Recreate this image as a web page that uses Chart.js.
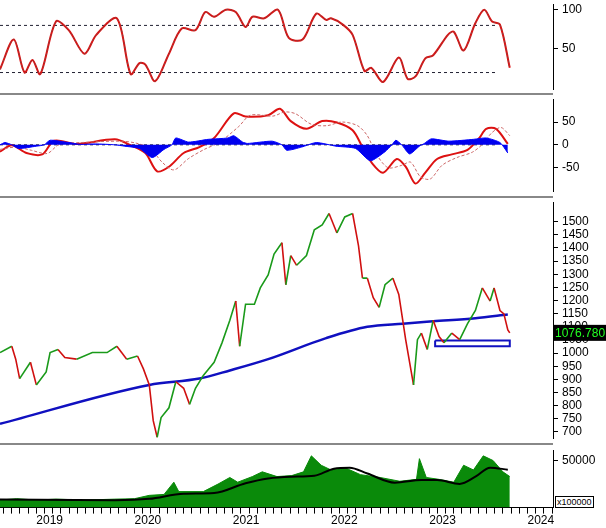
<!DOCTYPE html>
<html><head><meta charset="utf-8">
<script src="https://cdn.jsdelivr.net/npm/chart.js@4"></script>
<style>
body{margin:0;background:#fff;width:606px;height:528px;overflow:hidden;position:relative;font-family:"Liberation Sans",Arial,sans-serif}
.p{position:absolute;left:0;width:606px}
.sep{position:absolute;left:0;width:553px;height:2px;background:#888}
#xl{position:absolute;left:555px;top:496px;font-size:9px;border:1px solid #000;padding:0 1px;background:#fff}
</style></head><body>
<div class="p" style="top:-7px;height:108px"><canvas id="c1"></canvas></div>
<div class="p" style="top:88px;height:115px"><canvas id="c2"></canvas></div>
<div class="p" style="top:191px;height:259px"><canvas id="c3"></canvas></div>
<div class="p" style="top:439px;height:89px"><canvas id="c4"></canvas></div>
<div class="sep" style="top:93px"></div>
<div class="sep" style="top:196px"></div>
<div class="sep" style="top:443px"></div>
<div id="xl">x100000</div>
<script>
// time values in years since 2000
const priceT=[18.63,18.75,18.79,18.83,18.94,19.00,19.10,19.14,19.22,19.29,19.41,19.57,19.72,19.82,19.92,20.03,20.09,20.15,20.19,20.23,20.27,20.35,20.42,20.50,20.56,20.62,20.70,20.81,20.89,20.97,21.03,21.07,21.13,21.22,21.28,21.36,21.42,21.50,21.54,21.59,21.65,21.75,21.83,21.91,21.98,22.06,22.14,22.22,22.28,22.32,22.37,22.43,22.49,22.55,22.63,22.69,22.73,22.76,22.84,22.88,22.92,22.98,23.04,23.10,23.15,23.23,23.31,23.39,23.47,23.54,23.62,23.66,23.72,23.76,23.80,23.82];
const priceV=[1002,1026,977,903,965,879,928,1002,1014,983,977,1002,1002,1026,977,989,940,879,743,680,755,792,891,866,805,866,915,965,1039,1125,1198,1026,1186,1186,1248,1297,1377,1420,1260,1371,1334,1371,1469,1488,1531,1457,1518,1531,1408,1285,1285,1211,1174,1260,1285,1223,1125,1051,879,1051,1076,1014,1125,1063,1039,1076,1051,1112,1162,1248,1198,1248,1162,1149,1088,1077];
const maT=[18.63,20.15,20.66,20.97,21.36,21.95,22.37,22.73,23.04,23.47,23.80];
const maV=[731,879,903,934,977,1057,1100,1112,1121,1133,1147];
const boxT=[23.06,23.82];
const boxV=[1048,1026];
const rsiT=[18.63,18.77,18.88,18.96,19.04,19.20,19.33,19.49,19.61,19.82,19.96,20.05,20.11,20.21,20.35,20.48,20.62,20.72,20.81,20.93,21.03,21.13,21.20,21.32,21.46,21.57,21.71,21.85,21.95,22.00,22.12,22.22,22.34,22.41,22.53,22.69,22.78,22.86,22.96,23.04,23.19,23.25,23.35,23.47,23.56,23.64,23.72,23.82];
const rsiV=[24,62,20,36,18,85,74,44,68,89,18,32,30,9,44,76,74,97,91,100,97,78,91,89,100,64,62,95,87,89,81,68,22,26,8,39,12,15,38,42,68,72,48,83,100,85,81,26];
const macdT=[18.63,18.75,18.90,19.06,19.18,19.41,19.80,19.96,20.11,20.23,20.35,20.50,20.66,20.81,21.01,21.13,21.36,21.48,21.59,21.75,21.91,22.06,22.22,22.32,22.41,22.53,22.67,22.76,22.86,22.96,23.08,23.23,23.39,23.51,23.58,23.68,23.80];
const macdV=[-15,-1,-18,-21,9,2,12,-1,-18,-58,-48,-18,-5,15,69,62,65,79,52,35,52,49,32,-5,-38,-61,-31,-48,-85,-61,-31,-21,-11,15,35,35,2];
const sigT=[18.63,18.80,18.95,19.11,19.23,19.46,19.85,20.01,20.16,20.28,20.40,20.55,20.71,20.86,21.06,21.18,21.41,21.53,21.64,21.80,21.96,22.11,22.27,22.37,22.46,22.58,22.72,22.81,22.91,23.01,23.13,23.28,23.44,23.56,23.63,23.73,23.82];
const sigV=[-10,-5,-12,-19,0,5,8,4,-8,-38,-55,-30,-10,5,40,65,63,72,68,45,42,50,42,20,-20,-50,-45,-38,-70,-75,-45,-28,-16,5,25,38,20];
const histT=[18.63,18.68,18.75,18.82,19.00,19.08,19.14,19.30,19.45,19.60,19.80,19.90,20.05,20.18,20.30,20.38,20.42,20.55,20.75,20.95,21.01,21.10,21.15,21.40,21.50,21.55,21.70,21.85,22.05,22.25,22.40,22.55,22.62,22.66,22.72,22.80,22.90,22.95,23.02,23.20,23.45,23.58,23.72,23.80];
const histV=[0,5,0,-8,-3,0,10,6,1,2,0,-3,-8,-28,-10,0,15,6,12,15,20,6,3,8,0,-12,-5,5,-3,-8,-35,-15,0,10,0,-20,-3,3,13,8,12,15,5,-18];
const volT=[18.63,18.80,19.00,19.20,19.50,19.80,20.00,20.15,20.30,20.40,20.45,20.70,20.85,20.97,21.05,21.20,21.30,21.45,21.60,21.72,21.80,21.90,22.00,22.15,22.30,22.50,22.70,22.87,22.90,22.97,23.10,23.25,23.35,23.45,23.55,23.65,23.75,23.82];
const volV=[8000,9500,8000,9000,8000,9000,9500,13000,14000,27000,17000,17000,25000,32000,27000,33000,38000,33000,34000,38000,55000,45000,40000,42000,35000,32000,28000,30000,52000,32000,30000,27000,45000,40000,55000,50000,38000,33000];
const volMaT=[18.63,19.80,20.15,20.50,20.81,21.13,21.36,21.59,21.83,22.03,22.19,22.37,22.65,22.92,23.08,23.31,23.47,23.62,23.80];
const volMaV=[8600,7900,9300,14800,15500,25900,31000,32800,33800,41400,42400,36200,26500,29300,29300,25200,32800,42400,40300];
const yearTicks=[19,20,21,22,23,24];
const rsiTicks=[50,100], macdTicks=[-50,0,50], volTicks=[50000];
const priceTicks=[700,750,800,850,900,950,1000,1050,1100,1150,1200,1250,1300,1350,1400,1450,1500];
const lastLabel='1076.780';

const XMIN=18.63,XMAX=24.26;
const pts=(t,v)=>t.map((x,i)=>({x,y:v[i]}));
Chart.defaults.font.family='"Liberation Sans",Arial,sans-serif';
Chart.defaults.font.size=12;
Chart.defaults.color='#000';
Chart.defaults.animation=false;
function yAxis(min,max,list){
  return {type:'linear',position:'right',min,max,afterFit:s=>{s.width=53},
    afterBuildTicks:s=>{s.ticks=list.map(v=>({value:v}));},
    grid:{display:true,drawOnChartArea:false,tickLength:5,color:'#000'},border:{color:'#000'},
    ticks:{padding:4,autoSkip:false,callback:v=>String(v)}};
}
function xAxis(){return {type:'linear',min:XMIN,max:XMAX,display:false};}
const pad={top:7,bottom:7,left:0,right:0};
const base={responsive:true,maintainAspectRatio:false,plugins:{legend:{display:false},tooltip:{enabled:false}},
  layout:{padding:pad},elements:{point:{radius:0}}};
const dash=(y)=>({data:[{x:XMIN,y},{x:XMAX-0.57,y}],borderColor:'#223',borderWidth:1,borderDash:[3,3]});

new Chart(c1,{type:'line',data:{datasets:[
  {data:pts(rsiT,rsiV),borderColor:'#844',borderWidth:1,borderDash:[2,2],tension:0.3},
  {data:pts(rsiT,rsiV),borderColor:'#d11',borderWidth:2,tension:0.3},
  dash(80),dash(20)]},
  options:Object.assign({},base,{scales:{x:xAxis(),y:yAxis(-2,107,rsiTicks)}})});

new Chart(c2,{type:'line',data:{datasets:[
  {data:pts(histT,histV),borderColor:'#00f',borderWidth:1,backgroundColor:'#0000ee',fill:'origin',tension:0.2},
  {data:pts(sigT,sigV),borderColor:'#c66',borderWidth:1,borderDash:[3,2],tension:0.3},
  {data:pts(macdT,macdV),borderColor:'#d11',borderWidth:2,tension:0.3},
  dash(0)]},
  options:Object.assign({},base,{scales:{x:xAxis(),y:yAxis(-103,100,macdTicks)}})});

const lastPlugin={id:'last',afterDraw(ch){
  const y=ch.scales.y.getPixelForValue(priceV[priceV.length-1]);const c=ch.ctx;
  c.save();c.fillStyle='#000';c.fillRect(553,y-8,53,16);c.fillStyle='#2f2';
  c.font='12px "Liberation Sans",Arial';c.textBaseline='middle';c.fillText(lastLabel,555,y+1);c.restore();}};
new Chart(c3,{type:'line',data:{datasets:[
  {data:pts(priceT,priceV),borderWidth:1.6,borderColor:'#080',
    segment:{borderColor:s=>s.p1.parsed.y>=s.p0.parsed.y?'#1a9a1a':'#d01010'}},
  {data:pts(maT,maV),borderColor:'#1010c0',borderWidth:2.5,cubicInterpolationMode:'monotone'},
  {data:[{x:boxT[0],y:boxV[0]},{x:boxT[1],y:boxV[0]},{x:boxT[1],y:boxV[1]},{x:boxT[0],y:boxV[1]},{x:boxT[0],y:boxV[0]}],borderColor:'#1010c0',borderWidth:2}]},
  options:Object.assign({},base,{scales:{x:xAxis(),y:yAxis(674,1574,priceTicks)}}),
  plugins:[lastPlugin]});

new Chart(c4,{type:'line',data:{datasets:[
  {data:pts(volMaT,volMaV),borderColor:'#000',borderWidth:2,cubicInterpolationMode:'monotone'},
  {data:pts(volT,volV),borderColor:'#0a8a0a',borderWidth:1,backgroundColor:'#0a8a0a',fill:'origin'}]},
  options:Object.assign({},base,{layout:{padding:{top:7,bottom:0,left:0,right:0}},scales:{
    x:{type:'linear',min:XMIN,max:XMAX,position:'bottom',grid:{display:true,drawOnChartArea:false,tickLength:6,color:'#000'},
      border:{color:'#000'},
      afterBuildTicks:s=>{const t=[];for(let m=Math.ceil(XMIN*12);m<=XMAX*12;m++)t.push({value:m/12});s.ticks=t;},
      ticks:{autoSkip:false,maxRotation:0,align:'start',padding:0,
        callback:v=>{const r=Math.round(v);return Math.abs(v-r)<0.01&&yearTicks.includes(r)?String(2000+r):'';}}},
    y:yAxis(0,61000,volTicks)}})});
</script></body></html>
